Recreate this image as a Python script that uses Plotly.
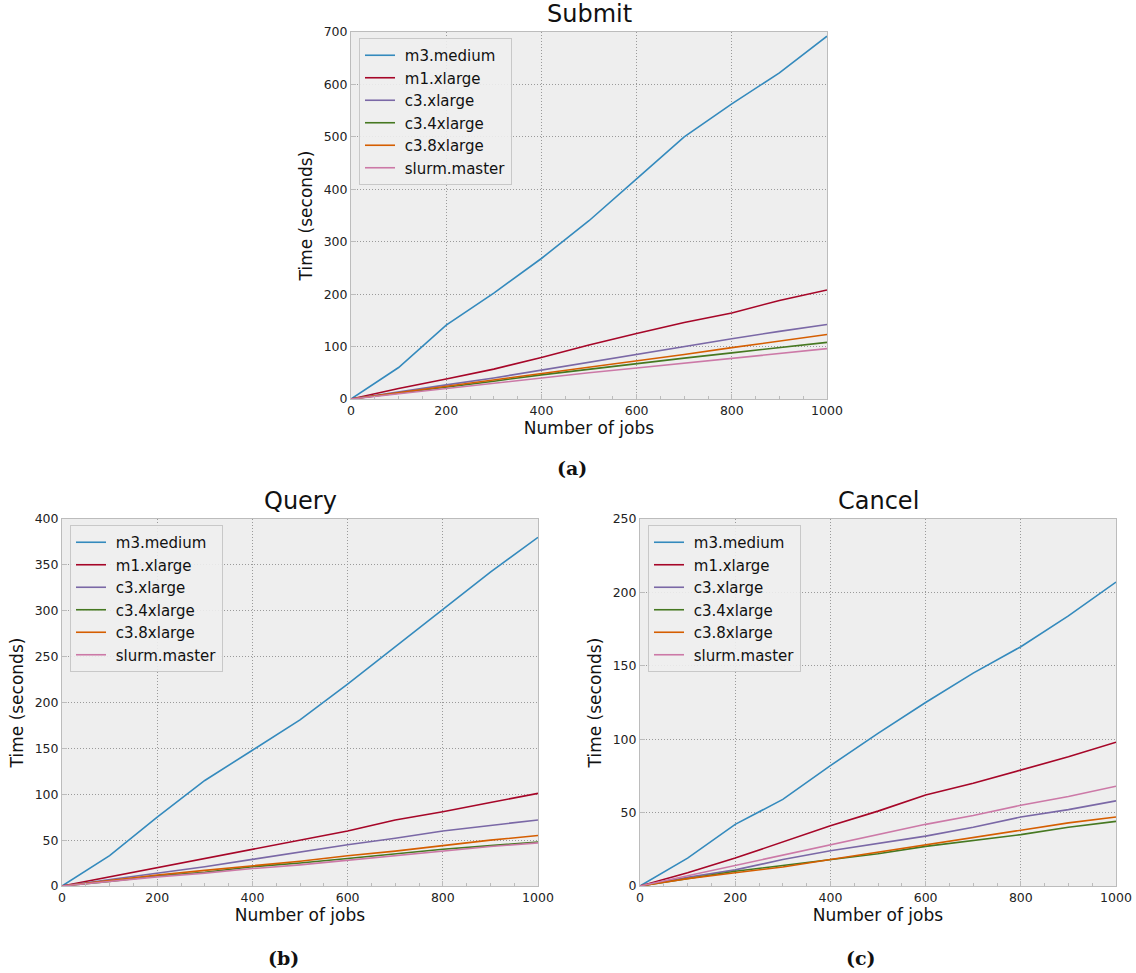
import plotly.graph_objects as go

jobs = [0, 100, 200, 300, 400, 500, 600, 700, 800, 900, 1000]
series_names = ["m3.medium", "m1.xlarge", "c3.xlarge", "c3.4xlarge", "c3.8xlarge", "slurm.master"]
colors = ["#348ABD", "#A60628", "#7A68A6", "#467821", "#D55E00", "#CC79A7"]

submit_m3_medium = [0, 60, 141, 202, 268, 340, 420, 500, 563, 622, 692]
submit_m1_xlarge = [0, 20, 38, 57, 79, 103, 125, 146, 164, 188, 208]
submit_c3_xlarge = [0, 14, 27, 40, 55, 71, 86, 100, 115, 129, 142]
submit_c3_4xlarge = [0, 11, 23, 34, 46, 57, 68, 78, 88, 98, 108]
submit_c3_8xlarge = [0, 12, 24, 36, 49, 61, 72, 85, 98, 111, 123]
submit_slurm_master = [0, 10, 20, 30, 41, 50, 59, 68, 77, 87, 96]

query_m3_medium = [0, 33, 75, 115, 148, 181, 220, 261, 301, 342, 380]
query_m1_xlarge = [0, 10, 20, 30, 40, 50, 60, 72, 81, 91, 101]
query_c3_xlarge = [0, 7, 14, 21, 29, 37, 45, 52, 60, 66, 72]
query_c3_4xlarge = [0, 5, 11, 15, 21, 25, 30, 35, 40, 44, 48]
query_c3_8xlarge = [0, 6, 12, 17, 22, 27, 33, 38, 44, 50, 55]
query_slurm_master = [0, 5, 10, 14, 19, 23, 28, 33, 38, 43, 47]

cancel_m3_medium = [0, 19, 42, 59, 82, 104, 125, 145, 163, 184, 207]
cancel_m1_xlarge = [0, 9, 19, 30, 41, 51, 62, 70, 79, 88, 98]
cancel_c3_xlarge = [0, 6, 11, 18, 24, 29, 34, 40, 47, 52, 58]
cancel_c3_4xlarge = [0, 5, 10, 14, 18, 22, 27, 31, 35, 40, 44]
cancel_c3_8xlarge = [0, 5, 9, 13, 18, 23, 28, 33, 38, 43, 47]
cancel_slurm_master = [0, 7, 14, 21, 28, 35, 42, 48, 55, 61, 68]

panels = [
    ("Submit", [submit_m3_medium, submit_m1_xlarge, submit_c3_xlarge, submit_c3_4xlarge, submit_c3_8xlarge, submit_slurm_master], 700, 100),
    ("Query", [query_m3_medium, query_m1_xlarge, query_c3_xlarge, query_c3_4xlarge, query_c3_8xlarge, query_slurm_master], 400, 50),
    ("Cancel", [cancel_m3_medium, cancel_m1_xlarge, cancel_c3_xlarge, cancel_c3_4xlarge, cancel_c3_8xlarge, cancel_slurm_master], 250, 50),
]

W, H = 1136, 973


def px(p):
    return p / W


def py(p):
    return 1 - p / H


# page-pixel boxes: left, right, top, bottom
boxes = [(351, 827, 32, 399), (62, 538, 519, 886), (640, 1116, 519, 886)]

fig = go.Figure()
FONT = "DejaVu Sans"

for i, (title, data, ymax, dy) in enumerate(panels):
    k = "" if i == 0 else str(i + 1)
    l, r, t, b = boxes[i]
    xd = [px(l), px(r)]
    yd = [py(b), py(t)]
    for name, col, vals in zip(series_names, colors, data):
        fig.add_trace(go.Scatter(
            x=jobs, y=vals, mode="lines", name="\u00a0" + name,
            line=dict(color=col, width=1.6),
            xaxis="x" + k, yaxis="y" + k,
            legend="legend" + k,
        ))
    axcommon = dict(
        showline=True, linecolor="#bcbcbc", linewidth=1, mirror=True,
        ticks="inside", ticklen=5, tickcolor="#bcbcbc",
        showgrid=True, gridcolor="#9a9a9a", griddash="1px,2px", gridwidth=1,
        zeroline=False, tickfont=dict(family=FONT, size=12.5, color="#222"),
        automargin=False,
    )
    fig.update_layout(**{
        "xaxis" + k: dict(domain=xd, range=[0, 1000], dtick=200, anchor="y" + k,
                          title=dict(text="Number of jobs", font=dict(family=FONT, size=17, color="#111"), standoff=2),
                          minor=dict(ticks="inside", dtick=50, ticklen=3, tickcolor="#bcbcbc", showgrid=False),
                          **axcommon),
        "yaxis" + k: dict(domain=yd, range=[0, ymax], dtick=dy, anchor="x" + k,
                          title=dict(text="Time (seconds)", font=dict(family=FONT, size=17, color="#111"), standoff=6),
                          **axcommon),
        "legend" + k: dict(x=px(l + 8), y=py(t + 6), xanchor="left", yanchor="top",
                           bgcolor="rgba(238,238,238,0.9)", bordercolor="#c8c8c8", borderwidth=1,
                           font=dict(family=FONT, size=15, color="#111"), itemwidth=30,
                           tracegroupgap=0),
    })
    fig.add_annotation(text=title, x=px((l + r) / 2), y=py(t - 2), xref="paper", yref="paper",
                       xanchor="center", yanchor="bottom", showarrow=False,
                       font=dict(family=FONT, size=24, color="#111"))

for lab, xc, yc in [("(a)", 572, 468), ("(b)", 283, 958), ("(c)", 861, 958)]:
    fig.add_annotation(text="<b>" + lab + "</b>", x=px(xc), y=py(yc), xref="paper", yref="paper",
                       xanchor="center", yanchor="middle", showarrow=False,
                       font=dict(family="DejaVu Serif", size=19, color="#111"))

fig.update_layout(
    width=W, height=H, margin=dict(l=0, r=0, t=0, b=0, autoexpand=False),
    paper_bgcolor="white", plot_bgcolor="#eeeeee", showlegend=True,
)
fig.write_html("out.html", config={"displayModeBar": False},
               post_script="document.body.style.margin='0';document.body.style.overflow='hidden';")
